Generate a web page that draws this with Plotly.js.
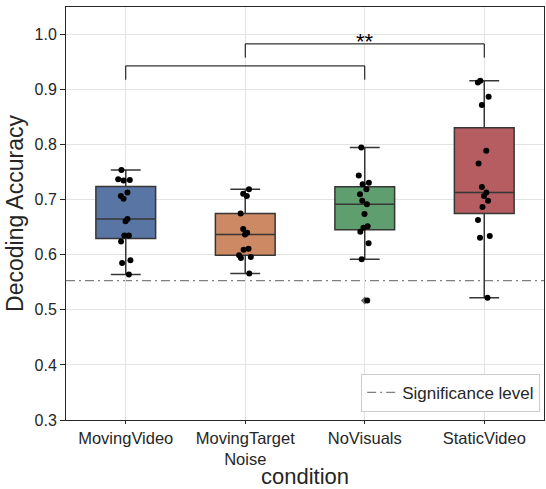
<!DOCTYPE html>
<html>
<head>
<meta charset="utf-8">
<script src="https://cdn.plot.ly/plotly-3.0.1.min.js"></script>
<style>html,body{margin:0;padding:0;background:#fff}#chart{width:546px;height:489px}</style>
</head>
<body>
<div id="chart"></div>
<script>
// ---- data ----
const categories = ['MovingVideo', 'MovingTargetNoise', 'NoVisuals', 'StaticVideo'];
const tickLabels = ['MovingVideo', 'MovingTarget<br>Noise', 'NoVisuals', 'StaticVideo'];
const movingVideo = [0.754, 0.737, 0.736, 0.735, 0.713, 0.707, 0.702, 0.665, 0.661, 0.635, 0.635, 0.624, 0.590, 0.585, 0.564];
const movingTargetNoise = [0.719, 0.711, 0.707, 0.675, 0.647, 0.640, 0.637, 0.611, 0.609, 0.599, 0.596, 0.594, 0.566];
const noVisuals = [0.795, 0.744, 0.731, 0.728, 0.719, 0.710, 0.698, 0.692, 0.674, 0.652, 0.649, 0.642, 0.621, 0.592, 0.517];
const staticVideo = [0.916, 0.913, 0.887, 0.872, 0.789, 0.766, 0.723, 0.713, 0.707, 0.698, 0.687, 0.663, 0.634, 0.631, 0.522];
const seriesValues = [movingVideo, movingTargetNoise, noVisuals, staticVideo];
const significanceLevel = 0.553;
const bracketPairs = [[0, 2], [1, 3]];
const bracketLevels = [0.943, 0.983];
const bracketLabels = ['', '**'];

// ---- styles ----
const boxColors = ['#5975a4', '#cc8963', '#5f9e6e', '#b55d60'];
const edge = '#363636';
const font = 'Liberation Sans, Arial, sans-serif';

const traces = [];
seriesValues.forEach((vals, i) => {
  traces.push({
    type: 'box', x: vals.map(() => categories[i]), y: vals, name: categories[i],
    fillcolor: boxColors[i], line: {color: edge, width: 1.5},
    boxpoints: 'outliers', jitter: 0, pointpos: 0,
    marker: {symbol: 'diamond', color: '#6e6e6e', size: 6},
    quartilemethod: 'inclusive', whiskerwidth: 0.5, width: 0.5,
    showlegend: false, hoverinfo: 'y'
  });
});
seriesValues.forEach((vals, i) => {
  traces.push({
    type: 'box', x: vals.map(() => categories[i]), y: vals, name: categories[i] + ' pts',
    fillcolor: 'rgba(0,0,0,0)', line: {color: 'rgba(0,0,0,0)', width: 0},
    boxpoints: 'all', jitter: 0.26, pointpos: 0,
    marker: {color: '#000000', size: 6},
    quartilemethod: 'inclusive', whiskerwidth: 0, width: 0.5,
    showlegend: false, hoveron: 'points', hoverinfo: 'y'
  });
});

const shapes = [{
  type: 'line', xref: 'paper', x0: 0, x1: 1, yref: 'y', y0: significanceLevel, y1: significanceLevel,
  line: {color: '#7f7f7f', width: 1.3, dash: '9px,4px,2px,4px'}, layer: 'between',
  showlegend: true, name: 'Significance level'
}];
const annotations = [];
const legH = 0.025;
bracketPairs.forEach((p, k) => {
  const yt = bracketLevels[k], yb = yt - legH;
  const ln = {color: '#000', width: 1};
  shapes.push({type: 'line', xref: 'x', yref: 'y', x0: p[0], x1: p[0], y0: yb, y1: yt, line: ln});
  shapes.push({type: 'line', xref: 'x', yref: 'y', x0: p[0], x1: p[1], y0: yt, y1: yt, line: ln});
  shapes.push({type: 'line', xref: 'x', yref: 'y', x0: p[1], x1: p[1], y0: yb, y1: yt, line: ln});
  if (bracketLabels[k]) {
    annotations.push({x: (p[0] + p[1]) / 2, y: yt, xref: 'x', yref: 'y', text: bracketLabels[k],
      showarrow: false, yanchor: 'bottom', yshift: -12, font: {size: 22, color: '#000', family: font}});
  }
});

const layout = {
  width: 546, height: 489,
  margin: {l: 66, r: 2, t: 7, b: 69},
  paper_bgcolor: '#fff', plot_bgcolor: '#fff',
  font: {family: font, color: '#262626', size: 16},
  boxmode: 'overlay', boxgap: 0.5,
  showlegend: true,
  xaxis: {
    type: 'category', categoryorder: 'array', categoryarray: categories,
    tickmode: 'array', tickvals: categories, ticktext: tickLabels,
    range: [-0.5, 3.5],
    showgrid: true, gridcolor: '#e3e3e3', gridwidth: 1,
    showline: true, linecolor: '#262626', linewidth: 1, mirror: true,
    ticks: 'outside', ticklen: 3, tickcolor: '#262626', zeroline: false,
    tickfont: {size: 16.5}, title: {text: 'condition', font: {size: 22}, standoff: 1}
  },
  yaxis: {
    range: [0.3, 1.05], dtick: 0.1, tick0: 0.3, tickformat: '.1f',
    showgrid: true, gridcolor: '#e3e3e3', gridwidth: 1,
    showline: true, linecolor: '#262626', linewidth: 1, mirror: true,
    ticks: 'outside', ticklen: 5, tickcolor: '#262626', zeroline: false,
    tickfont: {size: 16}, title: {text: 'Decoding Accuracy', font: {size: 23}, standoff: 4}
  },
  legend: {
    x: 0.992, y: 0.02, xanchor: 'right', yanchor: 'bottom',
    bgcolor: '#fff', bordercolor: '#cccccc', borderwidth: 1,
    font: {size: 17, color: '#262626'}
  },
  shapes: shapes, annotations: annotations
};

Plotly.newPlot('chart', traces, layout, {displayModeBar: false, staticPlot: true});
</script>
</body>
</html>
